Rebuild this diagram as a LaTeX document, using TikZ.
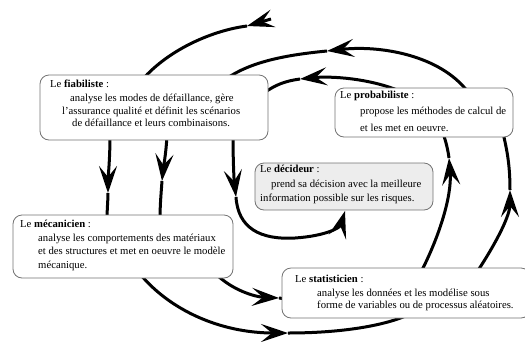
\documentclass[tikz,border=0pt]{standalone}
\usepackage{fontspec}
\setmainfont{Liberation Serif}
\usetikzlibrary{arrows.meta}
\tikzset{
  flow/.style={line width=3pt, black},
  arrowed/.style={-{Stealth[length=27pt,width=18pt,inset=11pt]}},
  box/.style={draw=black!55, line width=0.8pt, rounded corners=9pt, fill=white, inner sep=0pt},
  decbox/.style={box, fill=black!7},
  txt/.style={anchor=base west, inner sep=0pt, font=\fontsize{10.7}{12}\selectfont},
}
\begin{document}
\begin{tikzpicture}[x=1pt,y=-1pt]
\useasboundingbox (0,0) rectangle (525,341);
% ---- spiral (drawn below the boxes)
% outer arm
\draw[flow,arrowed] (271,19) -- (247,26);
\draw[flow] (247,26) .. controls (215,30) and (170,48) .. (142,80);
\draw[flow,arrowed] (110,135) .. controls (110,160) and (108,178) .. (108,193);
\draw[flow] (108,193) .. controls (108,200) and (107,210) .. (107,220);
\draw[flow,arrowed] (140,274) .. controls (170,310) and (220,333) .. (288,333);
\draw[flow] (288,333) .. controls (340,333) and (385,326) .. (410,314);
\draw[flow,arrowed] (477,272) .. controls (498,240) and (510,215) .. (510,190);
\draw[flow] (510,190) .. controls (510,165) and (507,150) .. (503,133);
% middle arm
\draw[flow,arrowed] (468,92) .. controls (440,55) and (380,45) .. (327,51);
\draw[flow] (327,51) .. controls (285,55) and (250,62) .. (226,79);
\draw[flow,arrowed] (167,135) .. controls (166,155) and (163,170) .. (162,181);
\draw[flow] (162,181) .. controls (161,195) and (160,205) .. (160,220);
\draw[flow,arrowed] (216,274) .. controls (232,290) and (255,297) .. (279,298);
\draw[flow] (279,298) -- (286,299);
\draw[flow,arrowed] (421,272) .. controls (440,235) and (452,195) .. (449,158);
\draw[flow] (449,158) .. controls (448,150) and (446,142) .. (443,133);
% inner arm
\draw[flow,arrowed] (402,92) .. controls (370,78) and (330,76) .. (300,79);
\draw[flow] (300,79) .. controls (285,81) and (275,85) .. (264,93);
\draw[flow,arrowed] (233,135) .. controls (233,160) and (234,180) .. (236,197);
\draw[flow,arrowed] (236,197) .. controls (238,228) and (260,240) .. (295,238) .. controls (325,236) and (340,228) .. (345,211);
% ---- boxes
\node[box, minimum width=228pt, minimum height=65pt] (fiab) at (154,107.5) {};
\node[box, minimum width=178pt, minimum height=49pt] (prob) at (424,112.5) {};
\node[decbox, minimum width=178pt, minimum height=47pt] (dec) at (344,186.5) {};
\node[box, minimum width=220pt, minimum height=63pt] (mec) at (123,246.5) {};
\node[box, minimum width=248pt, minimum height=50pt] (stat) at (406,293) {};
% ---- texts
\node[txt] (f0) at (50,87) {Le \textbf{fiabiliste} :};
\node[txt] (f1) at (70,101.5) {analyse les modes de défaillance, gère};
\node[txt] (f2) at (62,114) {l'assurance qualité et définit les scénarios};
\node[txt] (f3) at (72,126) {de défaillance et leurs combinaisons.};
\node[txt] (p0) at (340,98) {Le \textbf{probabiliste} :};
\node[txt] (p1) at (360,114.5) {propose les méthodes de calcul de};
\node[txt] (p2) at (360,131) {et les met en oeuvre.};
\node[txt] (d0) at (260,172) {Le \textbf{décideur} :};
\node[txt] (d1) at (271,187) {prend sa décision avec la meilleure};
\node[txt] (d2) at (260,201) {information possible sur les risques.};
\node[txt] (m0) at (20,227) {Le \textbf{mécanicien} :};
\node[txt] (m1) at (38,241.5) {analyse les comportements des matériaux};
\node[txt] (m2) at (38,254.5) {et des structures et met en oeuvre le modèle};
\node[txt] (m3) at (38,268) {mécanique.};
\node[txt] (s0) at (295,282) {Le \textbf{statisticien} :};
\node[txt] (s1) at (317,296) {analyse les données et les modélise sous};
\node[txt] (s2) at (317,308) {forme de variables ou de processus aléatoires.};
\end{tikzpicture}
\end{document}
